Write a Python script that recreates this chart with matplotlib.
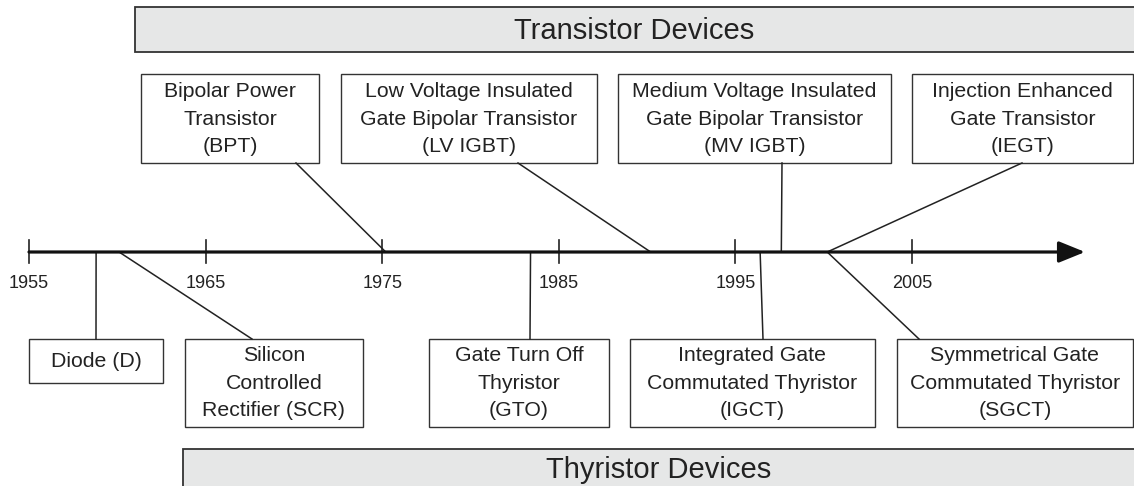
import matplotlib.pyplot as plt
from matplotlib.patches import Rectangle

# Timeline of power semiconductor devices

tick_years = [1955, 1965, 1975, 1985, 1995, 2005]

top_labels = ['Bipolar Power\nTransistor\n(BPT)',
              'Low Voltage Insulated\nGate Bipolar Transistor\n(LV IGBT)',
              'Medium Voltage Insulated\nGate Bipolar Transistor\n(MV IGBT)',
              'Injection Enhanced\nGate Transistor\n(IEGT)']
top_years = [1975.2, 1990.2, 1997.6, 2000.2]

bottom_labels = ['Diode (D)',
                 'Silicon\nControlled\nRectifier (SCR)',
                 'Gate Turn Off\nThyristor\n(GTO)',
                 'Integrated Gate\nCommutated Thyristor\n(IGCT)',
                 'Symmetrical Gate\nCommutated Thyristor\n(SGCT)']
bottom_years = [1958.8, 1960.1, 1983.4, 1996.4, 2000.2]

# layout (pixels): box left, right, and where the connector meets the box
top_boxes = [(141, 319, 296), (341, 597, 518), (618, 891, 782), (912, 1133, 1022)]
bottom_boxes = [(29, 163, 96, 383), (185, 363, 252, 427), (429, 609, 530, 427),
                (630, 875, 763, 427), (897, 1133, 919, 427)]

W, H = 1134, 486
x0, ppy = 29, 17.66   # pixel of 1955 and pixels per year
axis_y = 252


def px(year):
    return x0 + (year - 1955) * ppy


fig = plt.figure(figsize=(W / 100, H / 100), dpi=100)
ax = fig.add_axes([0, 0, 1, 1])
ax.set_xlim(0, W)
ax.set_ylim(H, 0)
ax.axis('off')

fam = ['Liberation Sans', 'DejaVu Sans']
edge = '#333333'
grey = '#e6e7e7'
txt = '#222222'

# banners
ax.add_patch(Rectangle((135, 7), W - 135 + 5, 45, facecolor=grey, edgecolor=edge, lw=1.3))
ax.text((135 + W) / 2, 31, 'Transistor Devices', ha='center', va='center',
        fontsize=21, family=fam, color=txt)
ax.add_patch(Rectangle((183, 449), W - 183 + 5, 60, facecolor=grey, edgecolor=edge, lw=1.3))
ax.text((183 + W) / 2, 470, 'Thyristor Devices', ha='center', va='center',
        fontsize=21, family=fam, color=txt)

# timeline with arrow
ax.annotate('', xy=(1085, axis_y), xytext=(px(1955), axis_y),
            arrowprops=dict(arrowstyle='-|>,head_length=1.6,head_width=0.65',
                            lw=2.3, color='#111111', shrinkA=0, shrinkB=0))
for yr in tick_years:
    ax.plot([px(yr), px(yr)], [240, 263], color=txt, lw=1.2)
    ax.text(px(yr), 283, str(yr), ha='center', va='center', fontsize=13,
            family=fam, color=txt)

# top boxes
for lab, yr, (l, r, att) in zip(top_labels, top_years, top_boxes):
    ax.add_patch(Rectangle((l, 74), r - l, 89, facecolor='white', edgecolor=edge, lw=1))
    ax.text((l + r) / 2, 119, lab, ha='center', va='center', fontsize=15.3,
            family=fam, color=txt, linespacing=1.55)
    ax.plot([att, px(yr)], [163, axis_y], color=txt, lw=1.1)

# bottom boxes
for lab, yr, (l, r, att, b) in zip(bottom_labels, bottom_years, bottom_boxes):
    ax.add_patch(Rectangle((l, 339), r - l, b - 339, facecolor='white', edgecolor=edge, lw=1))
    ax.text((l + r) / 2, (339 + b) / 2, lab, ha='center', va='center', fontsize=15.3,
            family=fam, color=txt, linespacing=1.55)
    ax.plot([px(yr), att], [axis_y, 339], color=txt, lw=1.1)

fig.savefig('out.png', dpi=100)
